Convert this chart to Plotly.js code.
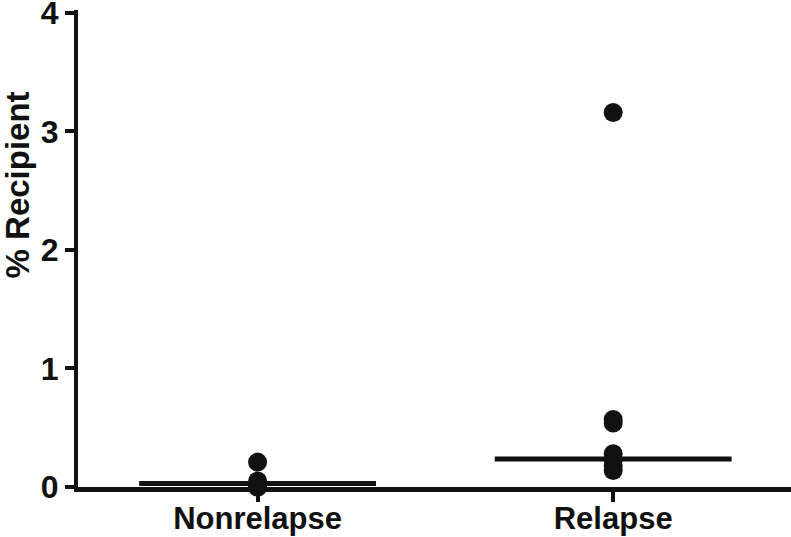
<!DOCTYPE html>
<html>
<head>
<meta charset="utf-8">
<script src="https://cdn.plot.ly/plotly-3.0.1.min.js"></script>
<style>html,body{margin:0;padding:0;background:#fff;}#chart{width:791px;height:537px;}</style>
</head>
<body>
<div id="chart"></div>
<script>
const categories = ["Nonrelapse", "Relapse"];
const nonrelapseValues = [0.21, 0.05, 0.02, 0.0, 0.0];
const relapseValues = [3.16, 0.57, 0.54, 0.28, 0.23, 0.18, 0.14];
const medians = [0.03, 0.236];
const yTicks = [0, 1, 2, 3, 4];
const yTitle = "% Recipient";

const ink = "#111111";
const fontFam = "'Liberation Sans', Arial, Helvetica, sans-serif";
const groups = [nonrelapseValues, relapseValues];
const halfWidth = 0.333;

const traces = [];
groups.forEach((vals, i) => {
  traces.push({
    type: "scatter", mode: "markers",
    x: vals.map(() => i), y: vals,
    marker: {size: 19, color: ink},
    hoverinfo: "y", showlegend: false, cliponaxis: false
  });
});
medians.forEach((m, i) => {
  traces.push({
    type: "scatter", mode: "lines",
    x: [i - halfWidth, i + halfWidth], y: [m, m],
    line: {color: ink, width: 5},
    hoverinfo: "skip", showlegend: false, cliponaxis: false
  });
});

const layout = {
  width: 791, height: 537,
  margin: {l: 78, r: 0, t: 10, b: 50},
  paper_bgcolor: "#fff", plot_bgcolor: "#fff",
  showlegend: false,
  font: {family: fontFam, color: ink},
  xaxis: {
    range: [-0.505, 1.5],
    tickvals: categories.map((c, i) => i), ticktext: categories,
    showgrid: false, zeroline: false,
    showline: true, linecolor: ink, linewidth: 5,
    ticks: "outside", ticklen: 10, tickwidth: 4, tickcolor: ink,
    ticklabelstandoff: -10,
    tickfont: {family: fontFam, size: 31, weight: "bold", color: ink}
  },
  yaxis: {
    range: [0, 4.025],
    tickvals: yTicks, ticktext: yTicks.map(String),
    showgrid: false, zeroline: false,
    showline: true, linecolor: ink, linewidth: 4,
    ticks: "outside", ticklen: 9, tickwidth: 4, tickcolor: ink,
    ticklabeloverflow: "allow",
    tickfont: {family: fontFam, size: 32, weight: "bold", color: ink}
  },
  annotations: [{
    text: yTitle, textangle: -90,
    xref: "paper", yref: "paper",
    x: -0.085, y: 0.633, xanchor: "center", yanchor: "middle",
    showarrow: false, borderpad: 0,
    font: {family: fontFam, size: 33, weight: "bold", color: ink}
  }]
};

Plotly.newPlot("chart", traces, layout, {displayModeBar: false, staticPlot: true});
</script>
</body>
</html>
